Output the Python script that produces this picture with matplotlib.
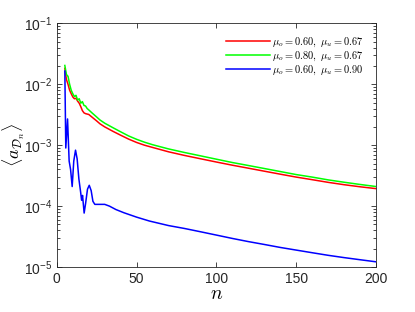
import matplotlib
matplotlib.use("Agg")
import matplotlib.pyplot as plt
from matplotlib.ticker import LogLocator, NullFormatter

plt.rcParams.update({
    "font.family": "Liberation Sans",
    "font.size": 10,
    "mathtext.fontset": "cm",
    "axes.edgecolor": "#262626",
    "xtick.color": "#262626",
    "ytick.color": "#262626",
})

# red: mu_o = 0.60, mu_u = 0.67
n_red = [5, 6, 7, 8, 9, 10, 11, 12, 13, 14, 15, 16, 17, 18, 20, 22, 25, 27,
         30, 35, 40, 45, 50, 55, 60, 70, 80, 90, 100, 110, 120, 130, 140, 150,
         160, 170, 180, 190, 200]
a_red = [1.83e-2, 1.2e-2, 1.0e-2, 8e-3, 7e-3, 6.2e-3, 5.8e-3, 5.9e-3, 5.3e-3,
         4.9e-3, 4.3e-3, 3.7e-3, 3.4e-3, 3.3e-3, 3.2e-3, 2.9e-3, 2.5e-3, 2.25e-3,
         2.0e-3, 1.7e-3, 1.46e-3, 1.26e-3, 1.11e-3, 1.0e-3, 9.2e-4, 7.8e-4,
         6.8e-4, 6.0e-4, 5.3e-4, 4.7e-4, 4.2e-4, 3.75e-4, 3.35e-4, 3.0e-4,
         2.72e-4, 2.46e-4, 2.25e-4, 2.08e-4, 1.94e-4]

# green: mu_o = 0.80, mu_u = 0.67
n_green = [5, 6, 7, 8, 9, 10, 11, 12, 13, 14, 15, 16, 17, 18, 19, 20, 22, 25,
           27, 30, 35, 40, 45, 50, 55, 60, 70, 80, 90, 100, 110, 120, 130, 140,
           150, 160, 170, 180, 190, 200]
a_green = [2.04e-2, 1.45e-2, 1.35e-2, 1.0e-2, 8e-3, 7e-3, 6.3e-3, 6.6e-3,
           5.5e-3, 5.8e-3, 4.9e-3, 5.2e-3, 4.5e-3, 4.4e-3, 4.0e-3, 3.8e-3,
           3.4e-3, 2.9e-3, 2.6e-3, 2.3e-3, 1.95e-3, 1.66e-3, 1.42e-3, 1.25e-3,
           1.12e-3, 1.02e-3, 8.7e-4, 7.6e-4, 6.7e-4, 5.9e-4, 5.2e-4, 4.65e-4,
           4.15e-4, 3.7e-4, 3.3e-4, 3.0e-4, 2.7e-4, 2.47e-4, 2.27e-4, 2.1e-4]

# blue: mu_o = 0.60, mu_u = 0.90
n_blue = [5, 5.6, 6.7, 7.7, 8.6, 9.6, 10.6, 11.7, 12.7, 13.8, 14.9, 15.5, 16.1,
          17.1, 18.0, 19.2, 20.3, 21.5, 22.6, 23.8, 30, 33, 37, 42, 50, 58, 70,
          80, 90, 100, 110, 120, 130, 140, 150, 160, 170, 180, 190, 200]
a_blue = [1.65e-2, 9e-4, 2.7e-3, 5.5e-4, 4e-4, 2.1e-4, 5.5e-4, 8.3e-4, 6e-4,
          2.8e-4, 1.7e-4, 1.25e-4, 1.5e-4, 7.7e-5, 1.1e-4, 1.9e-4, 2.2e-4,
          1.8e-4, 1.2e-4, 1.07e-4, 1.07e-4, 1.0e-4, 8.8e-5, 7.8e-5, 6.6e-5,
          5.7e-5, 4.8e-5, 4.3e-5, 3.8e-5, 3.35e-5, 2.95e-5, 2.62e-5, 2.35e-5,
          2.1e-5, 1.9e-5, 1.72e-5, 1.56e-5, 1.43e-5, 1.32e-5, 1.22e-5]

labels = [r"$\mu_o = 0.60,\ \mu_u = 0.67$",
          r"$\mu_o = 0.80,\ \mu_u = 0.67$",
          r"$\mu_o = 0.60,\ \mu_u = 0.90$"]

fig = plt.figure(figsize=(4.15, 3.12), dpi=100)
ax = fig.add_axes([0.137, 0.144, 0.769, 0.781])
ax.plot(n_red, a_red, color="#ff0000", lw=1.1, label=labels[0])
ax.plot(n_green, a_green, color="#00ff00", lw=1.1, label=labels[1])
ax.plot(n_blue, a_blue, color="#0000ff", lw=1.1, label=labels[2])

ax.set_yscale("log")
ax.set_xlim(0, 200)
ax.set_ylim(1e-5, 1e-1)
ax.set_xticks([0, 50, 100, 150, 200])
ax.yaxis.set_major_locator(LogLocator(base=10, numticks=10))
ax.yaxis.set_minor_locator(LogLocator(base=10, subs=range(2, 10), numticks=20))
ax.yaxis.set_minor_formatter(NullFormatter())
ax.tick_params(which="both", direction="in", top=True, right=True, width=0.6)
ax.tick_params(which="major", length=3.5, labelsize=10)
ax.tick_params(which="minor", length=2)
for s in ax.spines.values():
    s.set_linewidth(0.6)

ax.set_xlabel(r"$n$", fontsize=14, labelpad=0)
ax.set_ylabel(r"$\langle a_{\mathcal{D}_n} \rangle$", fontsize=13)
ax.yaxis.set_label_coords(-0.095, 0.5)
ax.legend(loc="upper right", frameon=False, fontsize=7.5, handlelength=4.2,
          handletextpad=0.2, labelspacing=0.05, borderaxespad=0.8)

fig.savefig("out.png", dpi=100)
